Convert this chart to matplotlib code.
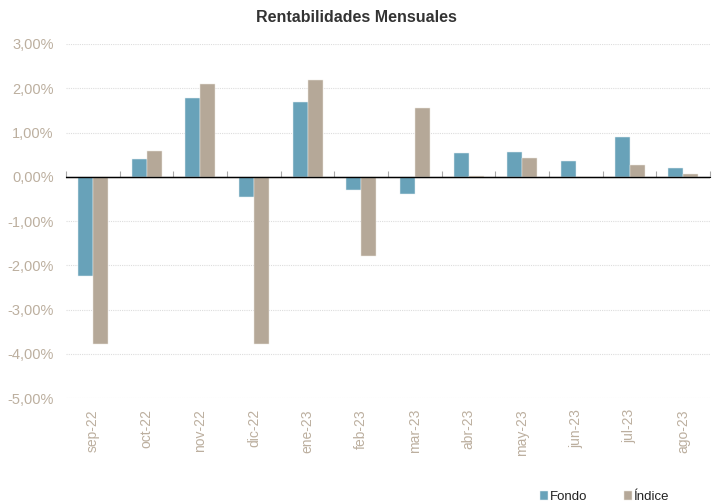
import numpy as np
import matplotlib
matplotlib.use("Agg")
import matplotlib.pyplot as plt
from matplotlib.ticker import FuncFormatter, MultipleLocator

plt.rcParams['font.family'] = ['Liberation Sans', 'DejaVu Sans']

months = ["sep-22", "oct-22", "nov-22", "dic-22", "ene-23", "feb-23",
          "mar-23", "abr-23", "may-23", "jun-23", "jul-23", "ago-23"]
fondo = [-2.25, 0.41, 1.79, -0.45, 1.68, -0.29, -0.38, 0.54, 0.57, 0.35, 0.90, 0.20]
indice = [-3.77, 0.59, 2.09, -3.79, 2.18, -1.78, 1.56, 0.02, 0.43, 0.00, 0.26, 0.06]

c_fondo = "#68A2B9"
c_indice = "#B5A898"
c_text = "#BCAF9F"

fig = plt.figure(figsize=(7.13, 5.04), dpi=100)
ax = fig.add_axes([0.0926, 0.2103, 0.9034, 0.7024])

x = np.arange(len(months))
w = 0.28
ax.bar(x - w / 2, fondo, w, color=c_fondo, edgecolor="#E4EEF2", linewidth=0.35, zorder=3, label="Fondo")
ax.bar(x + w / 2, indice, w, color=c_indice, edgecolor="#EDE8E2", linewidth=0.35, zorder=3, label="Índice")

ymin, ymax = -5, 3
ax.set_ylim(ymin, ymax)
ax.set_xlim(-0.5, len(months) - 0.5)
ax.yaxis.set_major_locator(MultipleLocator(1))
ax.yaxis.set_major_formatter(FuncFormatter(lambda v, p: f"{v:.2f}%".replace(".", ",")))
ax.grid(axis="y", color="#DDDDDD", linestyle=(0, (1, 1)), linewidth=0.8, zorder=0)

for s in ax.spines.values():
    s.set_visible(False)

ax.set_xticks(x)
ax.set_xticklabels(months, rotation=90)
ax.tick_params(axis="x", length=0, pad=8, labelsize=10, labelcolor=c_text)
ax.tick_params(axis="y", length=0, pad=9, labelsize=10.5, labelcolor=c_text)

# zero baseline with category separators
ax.axhline(0, color="black", linewidth=1.0, zorder=4)
sec = ax.secondary_xaxis((0 - ymin) / (ymax - ymin))
sec.spines["bottom"].set_visible(False)
sec.set_xticks(np.arange(len(months) + 1) - 0.5)
sec.set_xticklabels([])
sec.tick_params(axis="x", direction="out", length=4, width=0.8, color="#A8A8A8")

fig.text(0.5, 0.965, "Rentabilidades Mensuales", ha="center", va="center",
         fontsize=11.5, fontweight="bold", color="#333333")

handles, labels = ax.get_legend_handles_labels()
fig.legend(handles, labels, loc="lower right", bbox_to_anchor=(0.955, -0.022), ncol=2,
           frameon=False, fontsize=9.5, handlelength=0.6, handleheight=0.6,
           handletextpad=0.15, columnspacing=2.75, labelcolor="#222222")

fig.savefig("out.png", dpi=100)
